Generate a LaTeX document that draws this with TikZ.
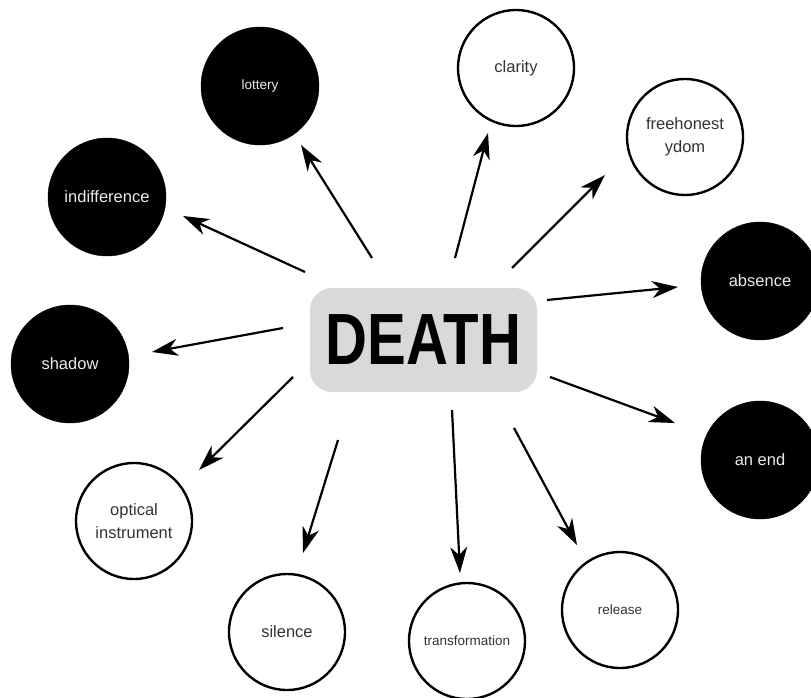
\documentclass[tikz,border=0pt]{standalone}
\usepackage{fontspec}
\setmainfont{Liberation Sans}
\usetikzlibrary{arrows.meta}
\definecolor{boxgrey}{HTML}{D9D9D9}
\definecolor{inkgrey}{HTML}{333333}
\tikzset{
  dark/.style={circle, fill=black, draw=black, minimum size=118pt, inner sep=0pt,
    text=white!92!black, font=\fontsize{16.5}{23}\selectfont, align=center},
  light/.style={circle, fill=white, draw=black, line width=2.4pt, minimum size=116pt,
    inner sep=0pt, text=inkgrey, font=\fontsize{16.5}{23}\selectfont, align=center},
  small/.style={font=\fontsize{13.5}{16}\selectfont},
  arr/.style={line width=2.2pt, -{Stealth[length=26pt, width=17pt, inset=8pt]}}
}
\begin{document}
\begin{tikzpicture}[x=1pt, y=-1pt]
      \useasboundingbox (0,0) rectangle (811,698);
      % CENTRE
      \node[fill=boxgrey, rounded corners=22pt, minimum width=227pt, minimum height=104pt,
        inner sep=0pt] (death) at (423.5,340)
        {\scalebox{0.8}[1]{\fontsize{72.6}{72.6}\selectfont\bfseries DEATH}};
      % BUBBLES
      % -- dark
      \node[dark, small] (lottery) at (260,86) {lottery};
      \node[dark] (indiff) at (107,197) {indifference};
      \node[dark] (shadow) at (70,364) {shadow};
      \node[dark] (absence) at (760,281) {absence};
      \node[dark] (anend) at (760,460) {an end};
      % -- light
      \node[light] (clarity) at (516,68) {clarity};
      \node[light] (freedom) at (685,137) {freehonest\\ydom};
      \node[light] (optical) at (134,521) {optical\\instrument};
      \node[light] (silence) at (287,632) {silence};
      \node[light, small] (transf) at (467,641) {transformation};
      \node[light, small] (release) at (620,610) {release};
      % ARROWS
      % -- tails
      \coordinate (t1) at (372,258);
      \coordinate (t2) at (455,258);
      \coordinate (t3) at (512,268);
      \coordinate (t4) at (305,272);
      \coordinate (t5) at (547,300);
      \coordinate (t6) at (283,328);
      \coordinate (t7) at (550,377);
      \coordinate (t8) at (293,377);
      \coordinate (t9) at (338,440);
      \coordinate (t10) at (452,410);
      \coordinate (t11) at (514,428);
      % -- tips
      \coordinate (h1) at (301,145);
      \coordinate (h2) at (488,133);
      \coordinate (h3) at (605,175);
      \coordinate (h4) at (183,216);
      \coordinate (h5) at (678,287);
      \coordinate (h6) at (152,352);
      \coordinate (h7) at (675,423);
      \coordinate (h8) at (199,470);
      \coordinate (h9) at (303,553);
      \coordinate (h10) at (460,573);
      \coordinate (h11) at (577,545);
      \foreach \i in {1,...,11}
        \draw[arr] (t\i) -- (h\i);
    \end{tikzpicture}
\end{document}
